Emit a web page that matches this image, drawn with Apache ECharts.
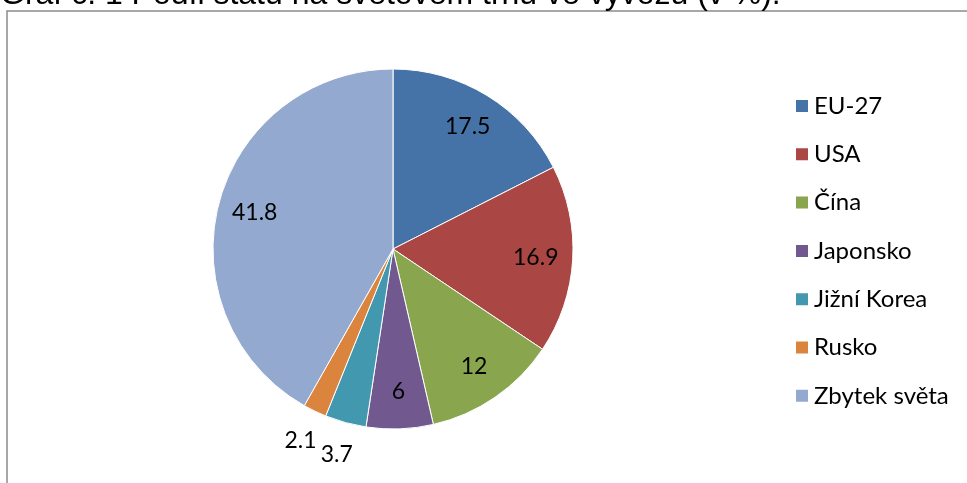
<!DOCTYPE html>
<html>
<head>
<meta charset="utf-8">
<script src="https://cdn.jsdelivr.net/npm/echarts@6/dist/echarts.min.js"></script>
<style>html,body{margin:0;padding:0;background:#fff;}#c{width:967px;height:483px;}</style>
</head>
<body>
<div id="c"></div>
<script>
var titleText = 'Graf č. 1 Podíl států na světovém trhu ve vývozu (v %).';
var categories = ['EU-27', 'USA', 'Čína', 'Japonsko', 'Jižní Korea', 'Rusko', 'Zbytek světa'];
var values = [17.5, 16.9, 12, 6, 3.7, 2.1, 41.8];
var colors = ['#4572A7', '#AA4643', '#89A54E', '#71588F', '#4198AF', '#DB843D', '#93A9CF'];

var chart = echarts.init(document.getElementById('c'));
var font = 'Lato, "Open Sans", sans-serif';
var center = [393, 249];

function labelData(showFn) {
  return categories.map(function (n, i) {
    return { name: n, value: values[i], label: { show: showFn(values[i]) } };
  });
}

chart.setOption({
  animation: false,
  backgroundColor: '#fff',
  title: {
    text: titleText,
    left: 0,
    top: -21,
    padding: 0,
    textStyle: { fontFamily: 'Liberation Sans, Arial, sans-serif', fontSize: 32, fontWeight: 'normal', color: '#000' }
  },
  graphic: [{
    type: 'rect',
    shape: { x: 7, y: 11, width: 1000, height: 500 },
    style: { fill: 'none', stroke: '#8c8c8c', lineWidth: 1.5 },
    silent: true
  }],
  legend: {
    orient: 'vertical',
    left: 794,
    top: 94,
    padding: 0,
    icon: 'rect',
    itemWidth: 14,
    itemHeight: 14,
    itemGap: 24.3,
    data: categories,
    textStyle: { fontFamily: font, fontSize: 24, lineHeight: 24, color: '#000' }
  },
  series: [{
    type: 'pie',
    center: center,
    radius: 180,
    startAngle: 90,
    clockwise: true,
    label: { show: false },
    labelLine: { show: false },
    itemStyle: { borderColor: '#fff', borderWidth: 1 },
    color: colors,
    data: categories.map(function (n, i) { return { name: n, value: values[i] }; })
  }, {
    type: 'pie',
    center: center,
    radius: [100, 180],
    startAngle: 90,
    clockwise: true,
    silent: true,
    avoidLabelOverlap: false,
    labelLayout: { hideOverlap: false },
    itemStyle: { color: 'rgba(0,0,0,0)' },
    label: { position: 'inside', formatter: '{c}', fontFamily: font, fontSize: 23, color: '#000' },
    labelLine: { show: false },
    data: labelData(function (v) { return v >= 5; })
  }, {
    type: 'pie',
    center: center,
    radius: [195, 225],
    startAngle: 90,
    clockwise: true,
    silent: true,
    avoidLabelOverlap: false,
    labelLayout: { hideOverlap: false },
    itemStyle: { color: 'rgba(0,0,0,0)' },
    label: { position: 'inside', formatter: '{c}', fontFamily: font, fontSize: 23, color: '#000' },
    labelLine: { show: false },
    data: labelData(function (v) { return v < 5; })
  }]
});
</script>
</body>
</html>
